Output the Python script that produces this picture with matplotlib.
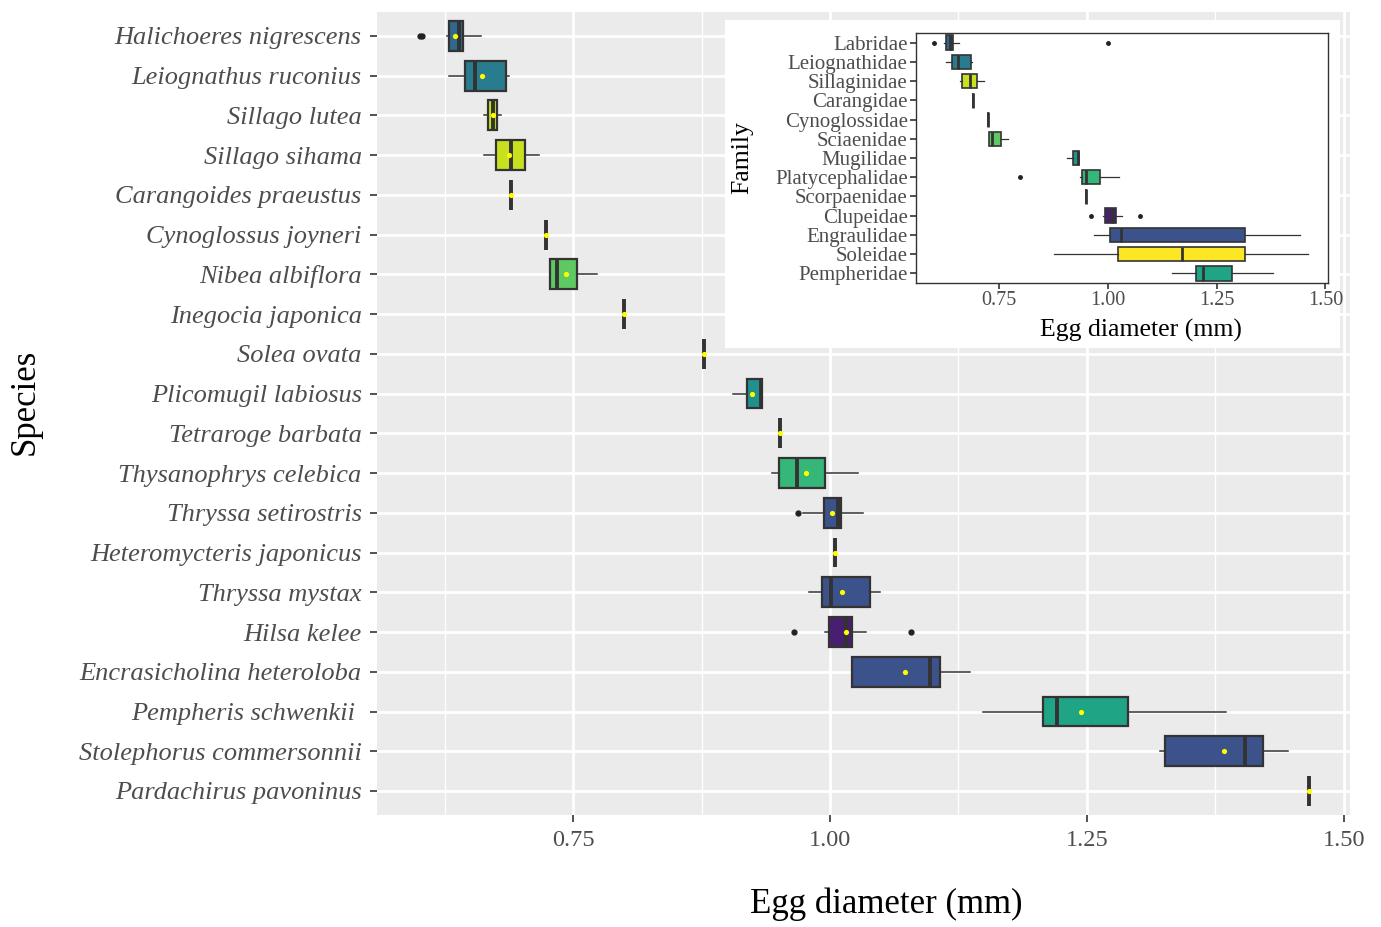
import numpy as np
import matplotlib
matplotlib.use("Agg")
import matplotlib.pyplot as plt

plt.rcParams["font.family"] = ["Liberation Serif", "DejaVu Serif"]

# --- datos por especie ---
species = [
    "Halichoeres nigrescens", "Leiognathus ruconius", "Sillago lutea", "Sillago sihama",
    "Carangoides praeustus", "Cynoglossus joyneri", "Nibea albiflora", "Inegocia japonica",
    "Solea ovata", "Plicomugil labiosus", "Tetraroge barbata", "Thysanophrys celebica",
    "Thryssa setirostris", "Heteromycteris japonicus", "Thryssa mystax", "Hilsa kelee",
    "Encrasicholina heteroloba", "Pempheris schwenkii ", "Stolephorus commersonnii",
    "Pardachirus pavoninus",
]
sp_family = [
    "Labridae", "Leiognathidae", "Sillaginidae", "Sillaginidae", "Carangidae",
    "Cynoglossidae", "Sciaenidae", "Platycephalidae", "Soleidae", "Mugilidae",
    "Scorpaenidae", "Platycephalidae", "Engraulidae", "Soleidae", "Engraulidae",
    "Clupeidae", "Engraulidae", "Pempheridae", "Engraulidae", "Soleidae",
]
sp_q1 = [0.629, 0.645, 0.667, 0.675, 0.690, 0.724, 0.728, 0.800, 0.877, 0.919,
         0.951, 0.950, 0.994, 1.005, 0.992, 0.999, 1.021, 1.207, 1.326, 1.466]
sp_med = [0.639, 0.655, 0.672, 0.690, 0.690, 0.724, 0.734, 0.800, 0.877, 0.933,
          0.951, 0.968, 1.008, 1.005, 1.001, 1.016, 1.097, 1.221, 1.404, 1.466]
sp_q3 = [0.643, 0.685, 0.676, 0.703, 0.690, 0.724, 0.754, 0.800, 0.877, 0.934,
         0.951, 0.995, 1.011, 1.005, 1.039, 1.021, 1.107, 1.290, 1.421, 1.466]
sp_lo = [0.627, 0.629, 0.663, 0.663, 0.690, 0.724, 0.728, 0.800, 0.877, 0.906,
         0.951, 0.944, 0.974, 1.005, 0.980, 0.995, 1.021, 1.149, 1.321, 1.466]
sp_hi = [0.660, 0.688, 0.680, 0.717, 0.690, 0.724, 0.773, 0.800, 0.877, 0.934,
         0.951, 1.027, 1.032, 1.005, 1.049, 1.035, 1.136, 1.385, 1.446, 1.466]
sp_mean = [0.635, 0.661, 0.672, 0.688, 0.690, 0.724, 0.743, 0.800, 0.877, 0.924,
           0.951, 0.977, 1.002, 1.005, 1.012, 1.016, 1.073, 1.244, 1.383, 1.466]
sp_fliers = [[0.601, 0.603], [], [], [], [], [], [], [], [], [],
             [], [], [0.969], [], [], [0.965, 1.079], [], [], [], []]

# --- datos por familia (inserto) ---
families = [
    "Labridae", "Leiognathidae", "Sillaginidae", "Carangidae", "Cynoglossidae",
    "Sciaenidae", "Mugilidae", "Platycephalidae", "Scorpaenidae", "Clupeidae",
    "Engraulidae", "Soleidae", "Pempheridae",
]
fam_q1 = [0.628, 0.642, 0.665, 0.690, 0.724, 0.728, 0.919, 0.941, 0.951, 0.994, 1.005, 1.023, 1.203]
fam_med = [0.638, 0.655, 0.683, 0.690, 0.724, 0.734, 0.931, 0.949, 0.951, 1.010, 1.031, 1.170, 1.219]
fam_q3 = [0.645, 0.685, 0.699, 0.690, 0.724, 0.754, 0.934, 0.983, 0.951, 1.020, 1.316, 1.315, 1.286]
fam_lo = [0.623, 0.628, 0.661, 0.690, 0.724, 0.728, 0.906, 0.937, 0.951, 0.989, 0.969, 0.877, 1.147]
fam_hi = [0.657, 0.687, 0.716, 0.690, 0.724, 0.771, 0.934, 1.026, 0.951, 1.032, 1.441, 1.460, 1.380]
fam_fliers = [[0.601, 1.001], [], [], [], [], [], [], [0.799], [], [0.962, 1.075], [], [], []]

# colores viridis por familia en orden alfabetico (como ggplot)
fam_sorted = sorted(families)
cmap = plt.cm.viridis
fam_color = {f: cmap(i / (len(fam_sorted) - 1)) for i, f in enumerate(fam_sorted)}

txt_col = "#4D4D4D"
edge_col = "#333333"


def stats_list(labels, q1, med, q3, lo, hi, fliers):
    out = []
    for i in range(len(labels)):
        out.append({"label": labels[i], "q1": q1[i], "med": med[i], "q3": q3[i],
                    "whislo": lo[i], "whishi": hi[i], "fliers": fliers[i]})
    return out


fig = plt.figure(figsize=(13.81, 9.27), dpi=100)

# ---------------- grafico principal ----------------
ax = fig.add_axes([0.273, 0.121, 0.7046, 0.866])
ax.set_facecolor("#EBEBEB")
pos = np.arange(1, len(species) + 1)
st = stats_list(species, sp_q1, sp_med, sp_q3, sp_lo, sp_hi, sp_fliers)
bp = ax.bxp(st, positions=pos, widths=0.75, orientation="horizontal", patch_artist=True,
            showcaps=False, showfliers=True,
            boxprops=dict(edgecolor=edge_col, linewidth=1.6),
            whiskerprops=dict(color=edge_col, linewidth=1.1),
            medianprops=dict(color=edge_col, linewidth=2.8),
            flierprops=dict(marker="o", markerfacecolor="#222222", markeredgecolor="#222222",
                            markersize=3.5))
for patch, fam in zip(bp["boxes"], sp_family):
    patch.set_facecolor(fam_color[fam])
ax.scatter(sp_mean, pos, s=14, color="yellow", zorder=5, linewidths=0)

ax.set_ylim(len(species) + 0.6, 0.4)
ax.set_xlim(0.5593, 1.506)
ax.set_yticks(pos)
ax.set_yticklabels(species, fontstyle="italic", fontsize=19, color=txt_col)
ax.set_xticks([0.75, 1.00, 1.25, 1.50])
ax.set_xticklabels(["0.75", "1.00", "1.25", "1.50"], fontsize=17.5, color=txt_col)
ax.set_xticks([0.625, 0.875, 1.125, 1.375], minor=True)
ax.tick_params(axis="both", which="major", length=5, width=1.2, color=edge_col, pad=6)
ax.tick_params(axis="x", which="minor", length=0)
ax.grid(True, which="major", color="white", linewidth=2.0)
ax.grid(True, which="minor", axis="x", color="white", linewidth=1.0)
ax.set_axisbelow(True)
for s in ax.spines.values():
    s.set_visible(False)

ax.set_xlabel("Egg diameter (mm)", fontsize=25, va="center")
ax.xaxis.set_label_coords(0.523, -0.112)
ax.set_ylabel("Species", fontsize=25, va="center")
ax.yaxis.set_label_coords(-0.362, 0.514)

# ---------------- fondo blanco del inserto ----------------
bg = fig.add_axes([0.525, 0.6246, 0.4453, 0.3538])
bg.set_facecolor("white")
bg.set_xticks([])
bg.set_yticks([])
for s in bg.spines.values():
    s.set_visible(False)

# ---------------- inserto por familia ----------------
ins = fig.add_axes([0.6633, 0.6947, 0.2983, 0.2697])
ins.set_facecolor("white")
fpos = np.arange(1, len(families) + 1)
fst = stats_list(families, fam_q1, fam_med, fam_q3, fam_lo, fam_hi, fam_fliers)
fbp = ins.bxp(fst, positions=fpos, widths=0.75, orientation="horizontal", patch_artist=True,
              showcaps=False, showfliers=True,
              boxprops=dict(edgecolor=edge_col, linewidth=1.2),
              whiskerprops=dict(color=edge_col, linewidth=0.9),
              medianprops=dict(color=edge_col, linewidth=2.0),
              flierprops=dict(marker="o", markerfacecolor="#222222", markeredgecolor="#222222",
                              markersize=2.5))
for patch, fam in zip(fbp["boxes"], families):
    patch.set_facecolor(fam_color[fam])

ins.set_ylim(len(families) + 0.5, 0.5)
ins.set_xlim(0.5593, 1.506)
ins.set_yticks(fpos)
ins.set_yticklabels(families, fontsize=15, color=txt_col)
ins.set_xticks([0.75, 1.00, 1.25, 1.50])
ins.set_xticklabels(["0.75", "1.00", "1.25", "1.50"], fontsize=14.5, color=txt_col)
ins.tick_params(axis="both", length=4, width=1.2, color=edge_col, pad=2)
for s in ins.spines.values():
    s.set_color(edge_col)
    s.set_linewidth(1.0)
ins.set_xlabel("Egg diameter (mm)", fontsize=18.5, va="center")
ins.xaxis.set_label_coords(0.546, -0.188)
ins.set_ylabel("Family", fontsize=18.5, va="center")
ins.yaxis.set_label_coords(-0.422, 0.5)

plt.savefig("out.png", dpi=100)
plt.close()
